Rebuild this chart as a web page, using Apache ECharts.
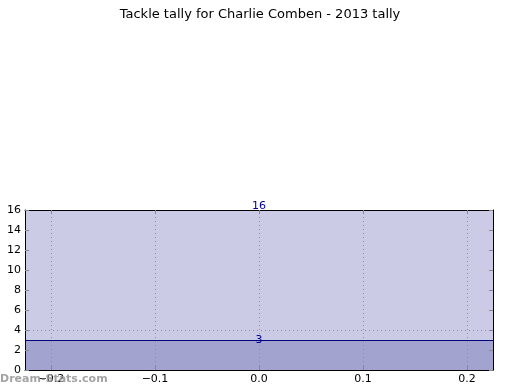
<!DOCTYPE html>
<html>
<head>
<meta charset="utf-8">
<script src="https://cdn.jsdelivr.net/npm/echarts@6/dist/echarts.min.js"></script>
<style>html,body{margin:0;padding:0;background:#fff}#c{width:520px;height:390px}</style>
</head>
<body>
<div id="c"></div>
<script>
var titleText = 'Tackle tally for Charlie Comben - 2013 tally';
var categories = ['2013'];
var totalValues = [16];
var partValues = [3];
var xTickValues = [-0.2, -0.1, 0.0, 0.1, 0.2];
var yGridValues = [4];

var chart = echarts.init(document.getElementById('c'), null, {renderer: 'canvas'});
var fmtX = function (v) {
  var s = (Math.round(v * 10) / 10).toFixed(1);
  return s.replace('-', '\u2212');
};
var tickStyle = {show: true, inside: true, length: 4, lineStyle: {color: '#888', width: 1}};
chart.setOption({
  animation: false,
  title: {
    text: titleText, left: 'center', top: 3,
    textStyle: {fontFamily: 'DejaVu Sans', fontSize: 13, fontWeight: 'normal', color: '#000'}
  },
  graphic: [{
    type: 'text', left: 0, top: 374, z: 100,
    style: {text: 'Dream-Stats.com', fontFamily: 'DejaVu Sans', fontSize: 11, fontWeight: 'bold', fill: '#999', opacity: 0.9}
  }],
  grid: {left: 25, right: 27, top: 210, bottom: 20, containLabel: false},
  xAxis: [
    {
      type: 'value', min: -0.225, max: 0.225, interval: 0.025, position: 'bottom', z: 10,
      axisLine: {show: true, onZero: false, lineStyle: {color: '#000', width: 1}},
      axisTick: {show: true, inside: true, length: 4, lineStyle: {color: '#888'}, customValues: xTickValues},
      axisLabel: {show: true, customValues: xTickValues, formatter: fmtX, fontFamily: 'DejaVu Sans', fontSize: 11, color: '#000', margin: 4},
      splitLine: {show: false}
    },
    {
      type: 'value', min: -0.225, max: 0.225, interval: 0.025, position: 'top', z: 10,
      axisLine: {show: true, onZero: false, lineStyle: {color: '#000', width: 1}},
      axisTick: {show: true, inside: true, length: 4, lineStyle: {color: '#888'}, customValues: xTickValues},
      axisLabel: {show: false},
      splitLine: {show: false}
    },
    {
      type: 'category', data: categories, show: false, boundaryGap: true
    }
  ],
  yAxis: [
    {
      type: 'value', min: 0, max: 16, interval: 2, position: 'left', z: 10,
      axisLine: {show: true, onZero: false, lineStyle: {color: '#000', width: 1}},
      axisTick: tickStyle,
      axisLabel: {fontFamily: 'DejaVu Sans', fontSize: 11, color: '#000', margin: 4},
      splitLine: {show: false}
    },
    {
      type: 'value', min: 0, max: 16, interval: 2, position: 'right', z: 10,
      axisLine: {show: true, onZero: false, lineStyle: {color: '#000', width: 1}},
      axisTick: tickStyle,
      axisLabel: {show: false},
      splitLine: {show: false}
    }
  ],
  series: [
    {
      type: 'bar', xAxisIndex: 2, yAxisIndex: 0, data: totalValues,
      barWidth: '100%', barGap: '-100%', z: 2,
      itemStyle: {color: '#cbcbe5'},
      label: {show: true, position: 'top', distance: -2, color: '#0000a0', fontFamily: 'DejaVu Sans', fontSize: 11}
    },
    {
      type: 'bar', xAxisIndex: 2, yAxisIndex: 0, data: partValues,
      barWidth: '100%', barGap: '-100%', z: 3,
      itemStyle: {color: '#a3a3d0'},
      label: {show: true, position: 'top', distance: -6, color: '#0000a0', fontFamily: 'DejaVu Sans', fontSize: 11},
      markLine: {
        silent: true, symbol: 'none', label: {show: false},
        lineStyle: {type: 'solid', color: '#000080', width: 1},
        data: partValues.map(function (v) { return {yAxis: v}; })
      }
    },
    {
      type: 'line', xAxisIndex: 0, yAxisIndex: 0, data: [], z: 5,
      markLine: {
        silent: true, symbol: 'none', label: {show: false},
        lineStyle: {type: [1, 3], color: '#888', width: 1, opacity: 0.9},
        data: xTickValues.map(function (v) { return {xAxis: v}; })
          .concat(yGridValues.map(function (v) { return {yAxis: v}; }))
      }
    }
  ]
});
</script>
</body>
</html>
